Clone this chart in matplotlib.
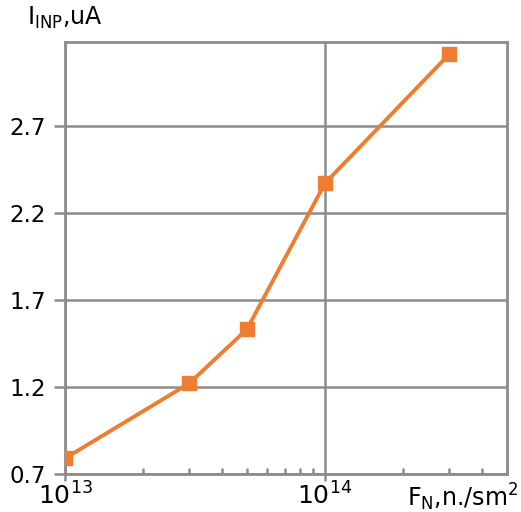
import matplotlib
matplotlib.use("Agg")
import matplotlib.pyplot as plt
from matplotlib.ticker import LogLocator, FixedLocator, NullFormatter

fluence = [1e13, 3e13, 5e13, 1e14, 3e14]
current = [0.79, 1.22, 1.53, 2.37, 3.11]
yticks = [0.7, 1.2, 1.7, 2.2, 2.7]

orange = "#ED7D31"
grey = "#8C8C8C"

plt.rcParams["font.family"] = "DejaVu Sans"
plt.rcParams["mathtext.fontset"] = "dejavusans"

fig = plt.figure(figsize=(5.21, 5.12), dpi=100)
ax = fig.add_axes([0.1248, 0.0742, 0.973 - 0.1248, 0.918 - 0.0742])

ax.plot(fluence, current, color=orange, lw=2.8, marker="s", ms=10, zorder=3)

ax.set_xscale("log")
ax.set_xlim(1e13, 5e14)
ax.set_ylim(0.7, 3.18)

ax.set_yticks(yticks)
ax.set_yticklabels([f"{v:.1f}" for v in yticks])
ax.xaxis.set_major_locator(FixedLocator([1e13, 1e14]))
ax.set_xticklabels([r"$10^{13}$", r"$10^{14}$"])
ax.xaxis.set_minor_locator(LogLocator(base=10, subs=range(2, 10)))
ax.xaxis.set_minor_formatter(NullFormatter())

ax.grid(True, which="major", color=grey, lw=1.8)
ax.set_axisbelow(True)
for s in ax.spines.values():
    s.set_color(grey)
    s.set_linewidth(2)

ax.tick_params(axis="y", which="major", direction="out", length=8, width=1.8,
               color=grey, labelsize=16.5, pad=6)
ax.tick_params(axis="x", which="major", direction="out", length=5, width=1.8,
               color=grey, labelsize=18, pad=1)
ax.tick_params(axis="x", which="minor", direction="in", length=4, width=1.8,
               color=grey)

fig.text(0.052, 0.965, r"I$_{\mathrm{INP}}$,uA", fontsize=17, va="center", ha="left")
fig.text(0.995, 0.028, r"F$_{\mathrm{N}}$,n./sm$^{2}$", fontsize=17, va="center", ha="right")

fig.savefig("out.png", dpi=100)
